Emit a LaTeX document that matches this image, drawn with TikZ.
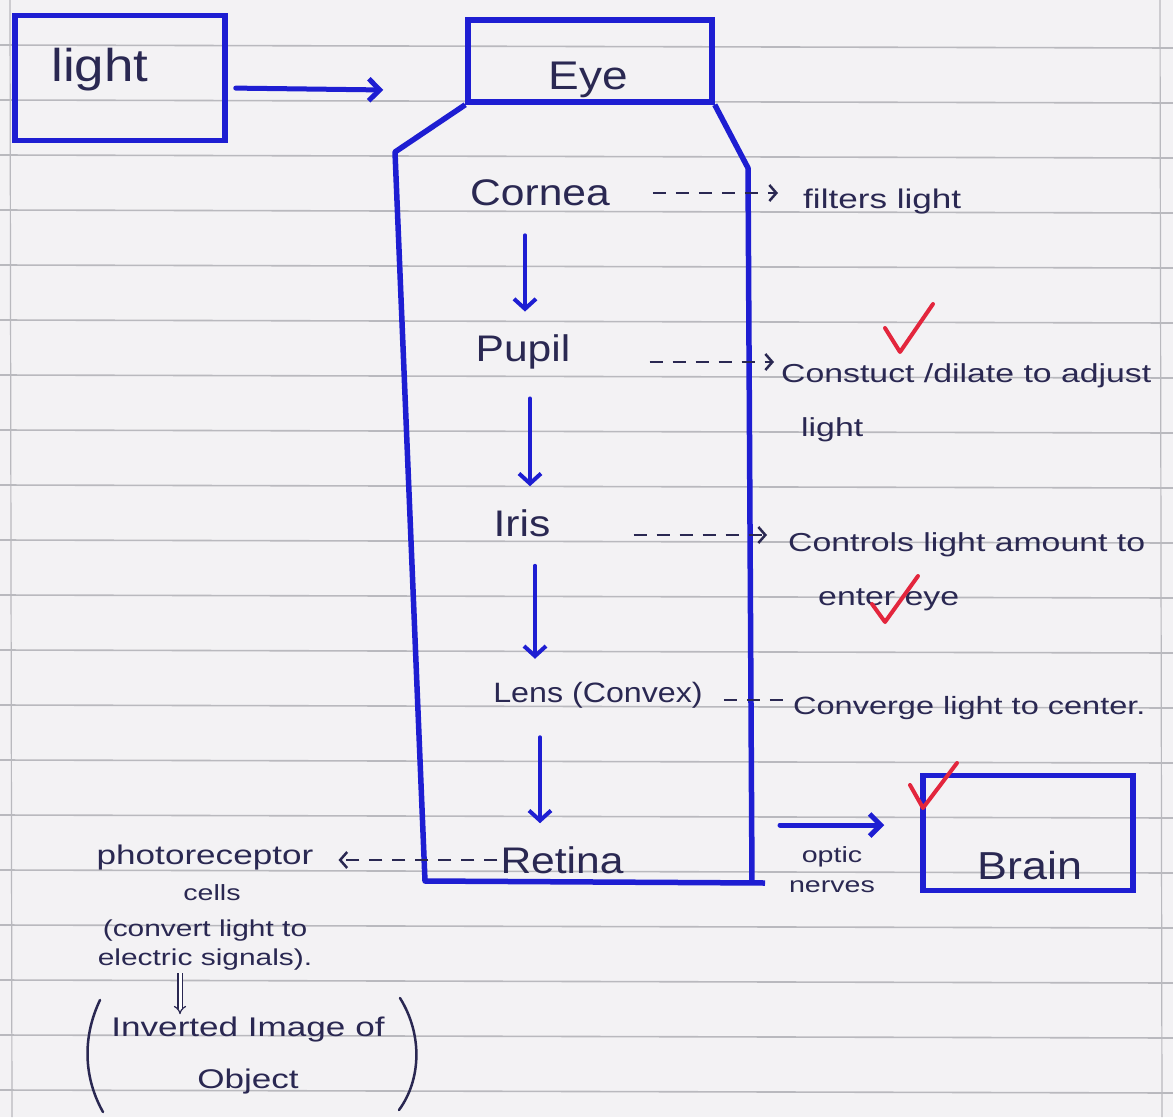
\documentclass[tikz,border=0pt]{standalone}
\usepackage{fontspec}
\setmainfont{Liberation Sans}[FakeStretch=1.15]
\newfontfamily\widehand{Liberation Sans}[FakeStretch=1.3]
\usetikzlibrary{arrows.meta}
\definecolor{pen}{HTML}{1E1ED2}
\definecolor{ink}{HTML}{2A2852}
\definecolor{chk}{HTML}{E3263D}
\definecolor{paper}{HTML}{F3F2F4}
\definecolor{rule}{HTML}{B9B9BE}
\begin{document}
\begin{tikzpicture}[x=1pt,y=-1pt,
  box/.style={draw=pen, line width=5.5pt, inner sep=0pt},
  lab/.style={text=ink, inner sep=3pt, font=\fontsize{37}{40}\selectfont},
  note/.style={text=ink, anchor=west, inner sep=3pt, font=\widehand\fontsize{26}{30}\selectfont},
  small/.style={text=ink, inner sep=3pt, align=center, font=\widehand\fontsize{22}{28}\selectfont},
  flow/.style={draw=pen, line width=5pt, line cap=round, -{Straight Barb[length=11pt,width=22pt,line width=5pt]}},
  down/.style={draw=pen, line width=4pt, line cap=round, shorten <=26pt, shorten >=20pt, -{Straight Barb[length=10pt,width=22pt,line width=4pt]}},
  dasharrow/.style={draw=ink, line width=2.5pt, dash pattern=on 13pt off 10pt, -{Straight Barb[length=7pt,width=16pt,line width=2.5pt]}},
  dashline/.style={draw=ink, line width=2.5pt, dash pattern=on 13pt off 10pt},
  hollow/.style={draw=ink, line width=1.2pt, double, double distance=3pt, -{Implies}},
  pencil/.style={draw=ink, line width=2.5pt, line cap=round},
  check/.style={draw=chk, line width=4pt, line cap=round, line join=round}]
\useasboundingbox (0,0) rectangle (1173,1117);
\fill[paper] (0,0) rectangle (1173,1117);
\foreach \k in {1,...,20} \draw[rule, line width=1.6pt] (0,{-10+55*\k}) -- (1173,{-7+55*\k});
\draw[rule, line width=1.2pt] (10,0) -- (12,1117);
\draw[rule, line width=1.2pt] (1160,0) -- (1162,1117);

% light box
\node[box, minimum width=210pt, minimum height=125pt] (lightbox) at (120,78) {};
\node[lab, font=\fontsize{46}{50}\selectfont] (lighttxt) at (100,70) {light};

% eye
\node[box, minimum width=244pt, minimum height=82pt] (eyebox) at (590,61) {};
\node[lab, font=\fontsize{40}{44}\selectfont] (eyetxt) at (588,80) {Eye};
\draw[flow, shorten <=8pt, shorten >=82pt] ([yshift=-10pt]lightbox.east) -- ([yshift=-30pt]eyebox.west);
\draw[draw=pen, line width=5.5pt, line join=round] (eyebox.south west) -- (395,152) -- (425,881) -- (765,883);
\draw[draw=pen, line width=5.5pt, line join=round] (eyebox.south east) -- (748,168) -- (752,883);

% parts
\node[lab] (cornea) at (540,193) {Cornea};
\node[lab] (pupil) at (523,352) {Pupil};
\node[lab] (iris) at (522,523) {Iris};
\node[lab, font=\fontsize{28}{32}\selectfont] (lens) at (598,695) {Lens (Convex)};
\node[lab] (retina) at (562,860) {Retina};

\draw[down] ([xshift=-15pt]cornea.south) -- ([xshift=-15pt]cornea.south |- pupil.north);
\draw[down] ([xshift=7pt]pupil.south) -- ([xshift=7pt]pupil.south |- iris.north);
\draw[down] ([xshift=13pt]iris.south) -- ([xshift=13pt]iris.south |- lens.north);
\draw[down] ([xshift=-58pt]lens.south) -- ([xshift=-58pt]lens.south |- retina.north);

% notes
\node[note, font=\widehand\fontsize{27}{30}\selectfont] (filters) at (800,202) {filters light};
\node[note] (constrict) at (778,376) {Constuct /dilate to adjust};
\node[note] (light2) at (798,430) {light};
\node[note] (controls) at (785,545) {Controls light amount to};
\node[note] (enter) at (815,600) {enter eye};
\node[note, font=\widehand\fontsize{25}{30}\selectfont] (converge) at (790,708) {Converge light to center.};

\draw[dasharrow, shorten <=40pt, shorten >=22pt] (cornea.east) -- (cornea.east -| filters.west);
\draw[dasharrow, shorten <=76pt, shorten >=4pt] ([yshift=-10pt]pupil.east) -- ([yshift=-10pt]pupil.east -| constrict.west);
\draw[dasharrow, shorten <=80pt, shorten >=18pt] ([yshift=-12pt]iris.east) -- ([yshift=-12pt]iris.east -| controls.west);
\draw[dashline, shorten <=18pt] ([yshift=-5pt]lens.east) -- ([yshift=-5pt]lens.east -| converge.west);

% retina side
\node[small, font=\widehand\fontsize{27}{30}\selectfont] (photo) at (205,858) {photoreceptor};
\draw[dasharrow, shorten >=22pt] (retina.west) -- (retina.west -| photo.east);
\node[small] (cells) at (212,893) {cells};
\node[small, font=\widehand\fontsize{23}{29}\selectfont] (cvt) at (205,945) {(convert light to\\electric signals).};
\node[small, font=\widehand\fontsize{27}{52}\selectfont] (inv) at (248,1056) {Inverted Image of\\Object};
\draw[hollow] ([xshift=-25pt]cvt.south) -- ([xshift=-25pt]cvt.south |- inv.north);
\draw[pencil] (100,1000) .. controls (81,1040) and (85,1080) .. (103,1112);
\draw[pencil] (400,998) .. controls (423,1035) and (421,1080) .. (399,1110);

% brain
\node[box, minimum width=210pt, minimum height=115pt] (brainbox) at (1028,833) {};
\node[lab, font=\fontsize{39}{42}\selectfont] (braintxt) at (1030,866) {Brain};
\coordinate (opticstart) at (780,825);
\draw[flow, shorten >=36pt] (opticstart) -- ([yshift=8pt]brainbox.west);
\node[small, font=\widehand\fontsize{22}{30}\selectfont] (optic) at (832,870) {optic\\nerves};

% checks
\draw[check] (885,328) -- (900,352) -- (933,304);
\draw[check] (872,604) -- (885,622) -- (918,576);
\draw[check] (910,785) -- (923,808) -- (957,763);
\end{tikzpicture}
\end{document}
